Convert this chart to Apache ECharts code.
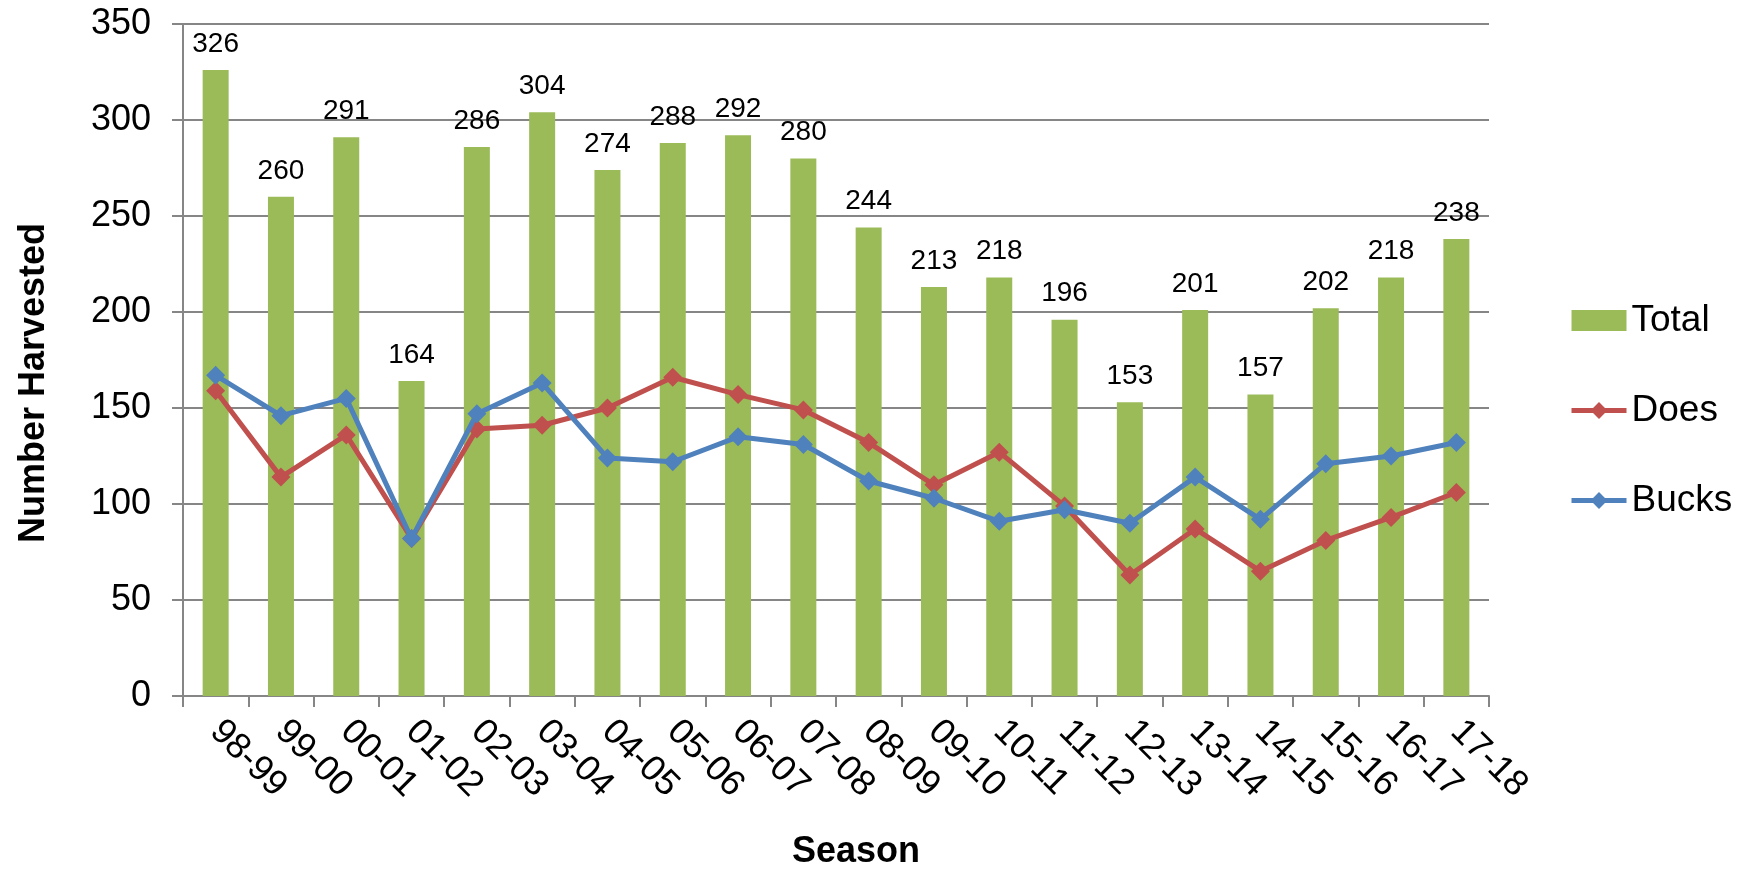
<!DOCTYPE html>
<html>
<head>
<meta charset="utf-8">
<title>Number Harvested by Season</title>
<script src="https://cdn.jsdelivr.net/npm/echarts@6/dist/echarts.min.js"></script>
<style>
  html, body { margin: 0; padding: 0; background: #fff; }
  #main { width: 1739px; height: 872px; }
</style>
</head>
<body>
<div id="main"></div>
<script>
// seasons on the x axis
var seasons = ['98-99', '99-00', '00-01', '01-02', '02-03', '03-04', '04-05', '05-06', '06-07', '07-08',
               '08-09', '09-10', '10-11', '11-12', '12-13', '13-14', '14-15', '15-16', '16-17', '17-18'];
// harvest counts
var total = [326, 260, 291, 164, 286, 304, 274, 288, 292, 280, 244, 213, 218, 196, 153, 201, 157, 202, 218, 238];
var does  = [159, 114, 136, 82, 139, 141, 150, 166, 157, 149, 132, 110, 127, 99, 63, 87, 65, 81, 93, 106];
var bucks = [167, 146, 155, 82, 147, 163, 124, 122, 135, 131, 112, 103, 91, 97, 90, 114, 92, 121, 125, 132];

var FONT = 'Liberation Sans, Arial, sans-serif';
var GRAY = '#868686';

var myChart = echarts.init(document.getElementById('main'));

var option = {
    backgroundColor: '#fff',
    animation: false,
    textStyle: { fontFamily: FONT, color: '#000' },
    grid: {
        left: 183,
        top: 24,
        right: 250,
        bottom: 176,
        containLabel: false,
        outerBoundsMode: 'none'
    },
    legend: {
        orient: 'vertical',
        left: 1564,
        top: 297,
        itemWidth: 55,
        itemHeight: 21,
        itemGap: 53,
        lineStyle: { width: 5 },
        textStyle: { fontSize: 37, fontFamily: FONT, color: '#000' },
        data: [
            { name: 'Total', icon: 'rect' },
            { name: 'Does' },
            { name: 'Bucks' }
        ]
    },
    xAxis: {
        type: 'category',
        data: seasons,
        boundaryGap: true,
        axisLine: { lineStyle: { color: GRAY, width: 2 } },
        axisTick: { show: true, length: 11, lineStyle: { color: GRAY, width: 2 } },
        axisLabel: {
            rotate: -45,
            fontSize: 36,
            fontFamily: FONT,
            color: '#000',
            margin: 30,
            interval: 0
        },
        splitLine: { show: false }
    },
    yAxis: {
        type: 'value',
        min: 0,
        max: 350,
        interval: 50,
        axisLine: { show: true, lineStyle: { color: GRAY, width: 2 } },
        axisTick: { show: true, length: 11, lineStyle: { color: GRAY, width: 2 } },
        axisLabel: { fontSize: 36, fontFamily: FONT, color: '#000', margin: 32 },
        splitLine: { show: true, lineStyle: { color: GRAY, width: 2 } }
    },
    graphic: [
        {
            type: 'text',
            x: 34,
            y: 383,
            rotation: Math.PI / 2,
            style: {
                text: 'Number Harvested',
                font: 'bold 36px ' + FONT,
                fill: '#000',
                align: 'center',
                verticalAlign: 'middle'
            }
        },
        {
            type: 'text',
            x: 856,
            y: 852,
            style: {
                text: 'Season',
                font: 'bold 36px ' + FONT,
                fill: '#000',
                align: 'center',
                verticalAlign: 'middle'
            }
        }
    ],
    series: [
        {
            name: 'Total',
            type: 'bar',
            data: total,
            barWidth: 26,
            itemStyle: { color: '#9BBB59' },
            label: {
                show: true,
                position: 'top',
                distance: 12,
                fontSize: 28,
                fontFamily: FONT,
                color: '#000'
            },
            z: 1
        },
        {
            name: 'Does',
            type: 'line',
            data: does,
            symbol: 'diamond',
            symbolSize: 19,
            lineStyle: { color: '#C0504D', width: 5 },
            itemStyle: { color: '#C0504D' },
            z: 3
        },
        {
            name: 'Bucks',
            type: 'line',
            data: bucks,
            symbol: 'diamond',
            symbolSize: 19,
            lineStyle: { color: '#4F81BD', width: 5 },
            itemStyle: { color: '#4F81BD' },
            z: 4
        }
    ]
};

myChart.setOption(option);
</script>
</body>
</html>
